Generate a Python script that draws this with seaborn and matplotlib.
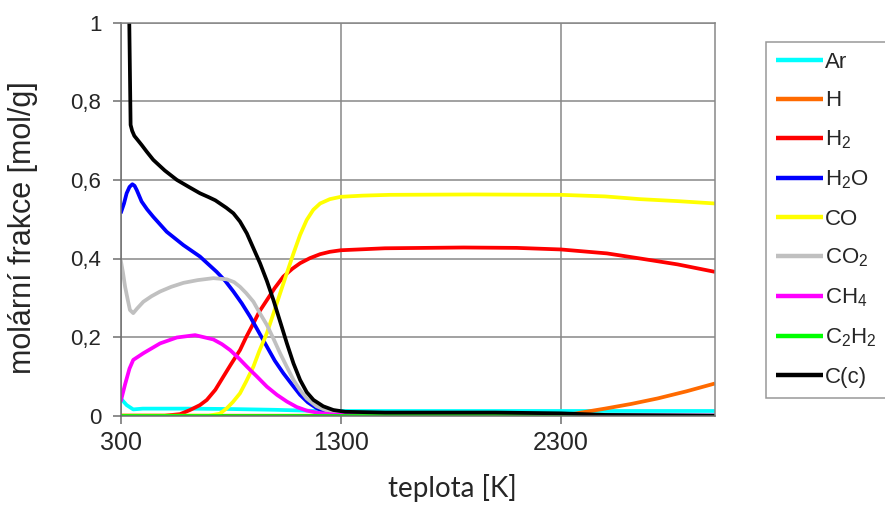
import matplotlib
matplotlib.use("Agg")
import matplotlib.pyplot as plt
import seaborn as sns
import pandas as pd

# Equilibrium composition vs. temperature
species = ["Ar", "H", "H2", "H2O", "CO", "CO2", "CH4", "C2H2", "C(c)"]
legend_labels = [
    "Ar", "H", r"$\mathregular{H_2}$", r"$\mathregular{H_2O}$", "CO",
    r"$\mathregular{CO_2}$", r"$\mathregular{CH_4}$",
    r"$\mathregular{C_2H_2}$", "C(c)",
]
colors = ["#00FFFF", "#FF6A00", "#FF0000", "#0000FF", "#FFFF00",
          "#C0C0C0", "#FF00FF", "#00FF00", "#000000"]

T_ar = [300, 327, 357, 400, 600, 800, 1000, 1200, 1500, 2000, 2500, 3000]
ar = [0.044, 0.027, 0.016, 0.018, 0.018, 0.017, 0.015, 0.012, 0.012, 0.012, 0.012, 0.012]

T_h = [300, 1500, 2200, 2360, 2500, 2620, 2740, 2870, 3000]
h = [0.0, 0.0, 0.001, 0.005, 0.018, 0.030, 0.044, 0.062, 0.082]

T_h2 = [300, 500, 570, 615, 660, 691, 730, 766, 800, 842, 870, 903, 930, 964,
        1000, 1039, 1080, 1115, 1160, 1206, 1250, 1300, 1500, 1857, 2100, 2300,
        2509, 2660, 2830, 3000]
h2 = [0.0, 0.0, 0.004, 0.0145, 0.027, 0.040, 0.066, 0.099, 0.130, 0.167, 0.200,
      0.235, 0.265, 0.294, 0.325, 0.354, 0.374, 0.388, 0.401, 0.411, 0.417, 0.421,
      0.426, 0.428, 0.427, 0.423, 0.413, 0.400, 0.385, 0.366]

T_h2o = [300, 315, 327, 340, 353, 363, 373, 395, 420, 448, 509, 585, 660, 736,
         775, 812, 850, 888, 925, 964, 1000, 1039, 1080, 1115, 1150, 1191, 1230,
         1266, 1320, 1500, 3000]
h2o = [0.515, 0.540, 0.566, 0.582, 0.589, 0.585, 0.574, 0.545, 0.525, 0.506,
       0.468, 0.434, 0.405, 0.366, 0.343, 0.316, 0.286, 0.252, 0.215, 0.176,
       0.140, 0.108, 0.078, 0.053, 0.034, 0.019, 0.010, 0.005, 0.002, 0.001, 0.0]

T_co = [300, 700, 750, 782, 810, 842, 870, 903, 930, 964, 994, 1024, 1055, 1085,
        1115, 1145, 1175, 1206, 1250, 1300, 1400, 1524, 1903, 2300, 2500, 2660,
        2830, 3000]
co = [0.0, 0.0, 0.005, 0.019, 0.035, 0.057, 0.087, 0.125, 0.165, 0.210, 0.260,
      0.311, 0.363, 0.413, 0.460, 0.498, 0.524, 0.540, 0.551, 0.557, 0.560,
      0.562, 0.563, 0.562, 0.558, 0.551, 0.546, 0.540]

T_co2 = [300, 310, 320, 332, 342, 357, 375, 403, 440, 479, 530, 585, 650, 721,
         782, 815, 842, 870, 903, 930, 964, 994, 1024, 1055, 1085, 1115, 1145,
         1190, 1236, 1300, 1500, 3000]
co2 = [0.396, 0.365, 0.328, 0.295, 0.269, 0.261, 0.273, 0.290, 0.304, 0.316,
       0.328, 0.338, 0.345, 0.350, 0.347, 0.340, 0.328, 0.312, 0.290, 0.263,
       0.231, 0.196, 0.159, 0.124, 0.091, 0.065, 0.044, 0.024, 0.013, 0.006,
       0.002, 0.0]

T_ch4 = [300, 320, 340, 357, 403, 479, 555, 638, 721, 760, 797, 835, 873, 920,
         964, 1010, 1055, 1100, 1145, 1200, 1266, 1400, 3000]
ch4 = [0.036, 0.080, 0.120, 0.142, 0.159, 0.184, 0.199, 0.205, 0.194, 0.182,
       0.167, 0.147, 0.125, 0.099, 0.074, 0.053, 0.036, 0.022, 0.013, 0.007,
       0.003, 0.001, 0.0]

T_c2h2 = [300, 3000]
c2h2 = [0.0005, 0.0005]

T_c = [330, 339, 345, 352, 362, 375, 395, 418, 448, 500, 555, 610, 660, 700,
       730, 751, 780, 812, 842, 873, 903, 933, 964, 994, 1024, 1055, 1085, 1115,
       1145, 1176, 1220, 1266, 1320, 1500, 2000, 2300, 2500, 3000]
c_solid = [1.4, 1.0, 0.74, 0.725, 0.712, 0.703, 0.689, 0.672, 0.651, 0.624,
           0.600, 0.582, 0.566, 0.556, 0.548, 0.540, 0.529, 0.515, 0.494, 0.464,
           0.426, 0.388, 0.343, 0.294, 0.240, 0.184, 0.133, 0.091, 0.060, 0.040,
           0.024, 0.0145, 0.010, 0.008, 0.008, 0.006, 0.002, 0.0]

series = [(T_ar, ar), (T_h, h), (T_h2, h2), (T_h2o, h2o), (T_co, co),
          (T_co2, co2), (T_ch4, ch4), (T_c2h2, c2h2), (T_c, c_solid)]

xticks = [300, 1300, 2300]
yticks = [0, 0.2, 0.4, 0.6, 0.8, 1.0]
ytick_labels = ["0", "0,2", "0,4", "0,6", "0,8", "1"]

frames = []
for lab, (tx, vy) in zip(legend_labels, series):
    frames.append(pd.DataFrame({"T": tx, "x": vy, "species": lab}))
df = pd.concat(frames, ignore_index=True)

sns.set_style("white")
plt.rcParams["font.family"] = ["Liberation Sans", "DejaVu Sans"]
plt.rcParams["mathtext.fontset"] = "custom"
plt.rcParams["mathtext.rm"] = "Liberation Sans"
plt.rcParams["mathtext.it"] = "Liberation Sans:italic"
plt.rcParams["mathtext.bf"] = "Liberation Sans:bold"

fig = plt.figure(figsize=(8.85, 5.05), dpi=100)
ax = fig.add_axes([120.7 / 885, 1 - 415.7 / 505, (715 - 120.7) / 885, (415.7 - 22.7) / 505])

sns.lineplot(data=df, x="T", y="x", hue="species", hue_order=legend_labels,
             palette=colors, estimator=None, sort=False, linewidth=2.7,
             ax=ax, legend=True)
for ln in ax.get_lines():
    ln.set_solid_joinstyle("round")
    ln.set_solid_capstyle("butt")

ax.set_xlim(300, 3000)
ax.set_ylim(0, 1)
ax.set_xticks(xticks)
ax.set_yticks(yticks)
ax.set_yticklabels(ytick_labels)

grid_c = "#878787"
ax.grid(True, color=grid_c, linewidth=1.1)
ax.set_axisbelow(True)
for s in ax.spines.values():
    s.set_color(grid_c)
    s.set_linewidth(1.1)
ax.spines["left"].set_color("#6e6e6e")
ax.spines["bottom"].set_color("#6e6e6e")

ax.tick_params(axis="both", direction="out", length=6, width=1.1, color="#6e6e6e",
               left=True, bottom=True)
ax.tick_params(axis="y", labelsize=16, pad=8)
ax.tick_params(axis="x", labelsize=18, pad=5)
for t in ax.get_xticklabels():
    t.set_fontfamily(["Liberation Sans Narrow", "Liberation Sans"])

ax.set_xlabel("teplota [K]", fontsize=20, family=["Lato", "DejaVu Sans"])
ax.set_ylabel("molární frakce [mol/g]", fontsize=22)
ax.xaxis.set_label_coords((452 - 120.7) / 594.3, -(474 - 415.7) / 393)
ax.yaxis.set_label_coords((38 - 120.7) / 594.3, (415.7 - 228) / 393)

handles, labels = ax.get_legend_handles_labels()
ax.get_legend().remove()
leg = fig.legend(handles, labels, loc="upper left",
                 bbox_to_anchor=(766 / 885, 1 - 42 / 505),
                 bbox_transform=fig.transFigure, fontsize=16, frameon=True,
                 fancybox=False, edgecolor="#7f7f7f", borderpad=0.45,
                 labelspacing=0.78, handlelength=2.1, handletextpad=0.1,
                 borderaxespad=0)
leg.get_frame().set_linewidth(1.1)
for lh in leg.get_lines():
    lh.set_linewidth(3.2)

fig.savefig("out.png", dpi=100)
